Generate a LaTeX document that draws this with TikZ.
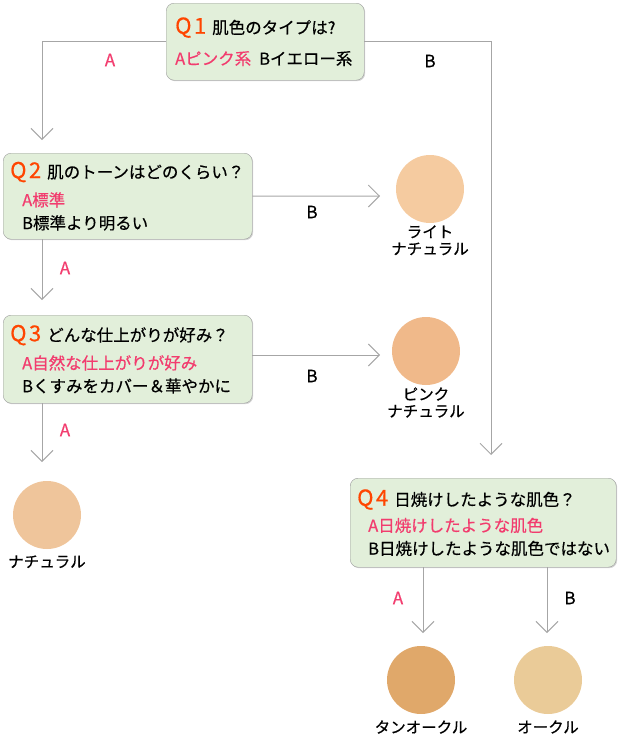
\documentclass[tikz,border=0pt]{standalone}
\usepackage{fontspec}
\setmainfont{Noto Sans CJK JP}[FakeBold=0.5]
\usetikzlibrary{arrows.meta,positioning,shadows}
\definecolor{grn}{HTML}{E2EFDA}
\definecolor{bln}{HTML}{9C9C9C}
\definecolor{gln}{HTML}{A6A6A6}
\definecolor{qrd}{HTML}{FF4500}
\definecolor{pnk}{HTML}{F23C6E}
\definecolor{skl}{HTML}{F5CBA0}
\definecolor{skp}{HTML}{F0B98A}
\definecolor{skn}{HTML}{EFC59B}
\definecolor{skt}{HTML}{E0A86A}
\definecolor{sko}{HTML}{EACB98}
\newcommand{\qno}[1]{{\fontsize{22}{20}\selectfont\color{qrd}Q\kern2.5pt#1}\hspace{6pt}}
\newcommand{\ans}[1]{\textcolor{pnk}{#1}}

\begin{document}
\begin{tikzpicture}[x=1pt, y=-1pt,
  qbox/.style={draw=bln, fill=grn, rounded corners=8pt, anchor=north west, align=left, inner xsep=7pt, inner ysep=0pt,
    font=\fontsize{16.5}{23}\selectfont, drop shadow={shadow xshift=1pt, shadow yshift=-1pt, opacity=.35, fill=gray}},
  dot/.style={circle, minimum size=68pt, inner sep=0pt, fill=#1},
  lab/.style={font=\fontsize{15.5}{17}\selectfont, align=center, inner sep=0pt},
  ab/.style={font=\fontsize{17}{17}\selectfont, inner sep=0pt, text=#1}, ab/.default=black,
  ar/.style={-{Straight Barb[length=11pt,width=22pt]}, gln, line width=1pt}]
\useasboundingbox (0,0) rectangle (620,736);
% questions
\node[qbox, text width=180pt, minimum height=77pt, inner xsep=9pt] (q1) at (166,3) {\qno{1}肌色のタイプは?\\[8pt]\ans{Aピンク系}\hspace{8pt}Bイエロー系};
\node[qbox, text width=235pt, minimum height=86pt] (q2) at (3,153) {\qno{2}肌のトーンはどのくらい？\\[5pt]\hspace*{12pt}\ans{A標準}\\\hspace*{12pt}B標準より明るい};
\node[qbox, text width=235pt, minimum height=88pt] (q3) at (3,315) {\qno{3}どんな仕上がりが好み？\\[5pt]\hspace*{12pt}\ans{A自然な仕上がりが好み}\\\hspace*{12pt}Bくすみをカバー＆華やかに};
\node[qbox, text width=252pt, minimum height=89pt] (q4) at (350,478) {\qno{4}日焼けしたような肌色？\\[3pt]\hspace*{11pt}\ans{A日焼けしたような肌色}\\\hspace*{11pt}B日焼けしたような肌色ではない};
% results
\node[dot=skl] (lnat) at (430,189) {};
\node[lab, below=2pt of lnat] (lnatt) {ライト\\ナチュラル};
\node[dot=skp] (pnat) at (426,351) {};
\node[lab, below=2pt of pnat] (pnatt) {ピンク\\ナチュラル};
\node[dot=skn] (nat) at (47,515) {};
\node[lab, below=6pt of nat] (natt) {ナチュラル};
\node[dot=skt] (tan) at (421,680) {};
\node[lab, below=6pt of tan] (tant) {タンオークル};
\node[dot=sko] (och) at (548,680) {};
\node[lab, below=6pt of och] (ocht) {オークル};
% arrows
\coordinate (a1) at (42,140); \coordinate (b1) at (491,455);
\coordinate (a2) at (42,300); \coordinate (b2) at (380,196);
\coordinate (a3) at (42,462); \coordinate (b3) at (380,355);
\coordinate (a4) at (423,633); \coordinate (b4) at (547,633);
\draw[ar] (q1.west) -| (a1); \draw[ar] (q1.east) -| (b1);
\draw[ar] (q2.south -| a2) -- (a2); \draw[ar] (q2.east) -- (b2);
\draw[ar] (q3.south -| a3) -- (a3); \draw[ar] (q3.east |- b3) -- (b3);
\draw[ar] (q4.south -| a4) -- (a4); \draw[ar] (q4.south -| b4) -- (b4);
\node[ab=pnk] (la1) at (110,60) {A}; \node[ab] (lb1) at (430,61) {B};
\node[ab=pnk] (la2) at (65,268) {A}; \node[ab] (lb2) at (312,212) {B};
\node[ab=pnk] (la3) at (65,430) {A}; \node[ab] (lb3) at (312,376) {B};
\node[ab=pnk] (la4) at (398,598) {A}; \node[ab] (lb4) at (570,598) {B};
\end{tikzpicture}
\end{document}
